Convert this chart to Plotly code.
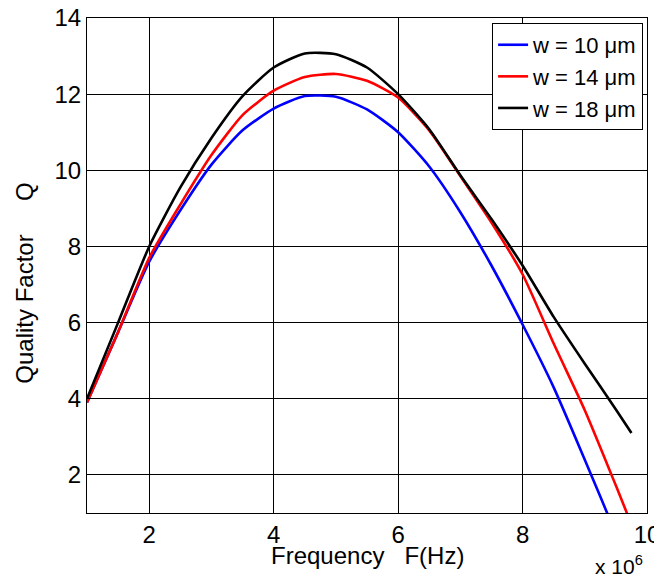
import plotly.graph_objects as go

FREQ = [1.0, 1.5, 2.0, 2.5, 3.0, 3.5, 4.0, 4.5, 5.0, 5.5, 6.0, 6.5,
        7.0, 7.5, 8.0, 8.5, 9.0, 9.5, 9.75]  # x 10^6 Hz

Q_W10 = [3.9, 5.75, 7.6, 8.95, 10.15, 11.05, 11.62, 11.95, 11.93, 11.6, 11.0, 10.1,
         8.9, 7.5, 5.95, 4.3, 2.4, 0.45, -0.55]
Q_W14 = [3.9, 5.75, 7.7, 9.1, 10.4, 11.45, 12.09, 12.45, 12.53, 12.35, 11.91, 11.05,
         9.85, 8.63, 7.27, 5.45, 3.7, 1.72, 0.7]
Q_W18 = [4.0, 6.0, 8.0, 9.55, 10.85, 11.95, 12.7, 13.07, 13.05, 12.7, 12.0, 11.08,
         9.87, 8.72, 7.5, 6.15, 4.92, 3.72, 3.1]

SERIES = [
    ("w = 10 μm", Q_W10, "#0000ff"),
    ("w = 14 μm", Q_W14, "#ff0000"),
    ("w = 18 μm", Q_W18, "#000000"),
]

FONT = "Arial, Liberation Sans, sans-serif"
NB = "\u00a0"

fig = go.Figure()
for name, q, color in SERIES:
    fig.add_trace(go.Scatter(
        x=FREQ, y=q, name=name, mode="lines",
        line=dict(color=color, width=2.6, shape="spline", smoothing=0.6),
    ))

axis_common = dict(
    showline=True, linecolor="black", linewidth=1.2, mirror="ticks",
    showgrid=True, gridcolor="black", gridwidth=1,
    ticks="inside", ticklen=5, tickcolor="black",
    zeroline=False, automargin=False, ticklabeloverflow="allow",
    tickfont=dict(family=FONT, size=24, color="black"),
)

fig.update_xaxes(range=[1, 10], tick0=0, dtick=2, **axis_common)
fig.update_yaxes(range=[1, 14], tick0=0, dtick=2, **axis_common)

# axis titles and the MATLAB-style exponent label
fig.add_annotation(
    text="Frequency" + NB * 3 + "F(Hz)", xref="paper", yref="paper",
    x=0.5, y=-0.086, xanchor="center", yanchor="middle", showarrow=False,
    font=dict(family=FONT, size=24, color="black"),
)
fig.add_annotation(
    text="Quality Factor" + NB * 5 + "Q", xref="paper", yref="paper",
    x=-0.111, y=0.465, xanchor="center", yanchor="middle", showarrow=False,
    textangle=-90, font=dict(family=FONT, size=24, color="black"),
)
fig.add_annotation(
    text="x 10<sup>6</sup>", xref="paper", yref="paper", x=0.996, y=-0.105,
    xanchor="right", yanchor="middle", showarrow=False,
    font=dict(family=FONT, size=21, color="black"),
)

# page body adds an 8px margin, so the figure is drawn 8px in from the top-left
fig.update_layout(
    width=654, height=571,
    margin=dict(l=79, r=15, t=10, b=66),
    plot_bgcolor="white", paper_bgcolor="white",
    showlegend=True,
    legend=dict(
        x=0.993, y=0.99, xanchor="right", yanchor="top",
        bgcolor="white", bordercolor="black", borderwidth=1,
        font=dict(family=FONT, size=22, color="black"),
        tracegroupgap=0, itemwidth=30,
    ),
)

fig.write_html("out.html")
